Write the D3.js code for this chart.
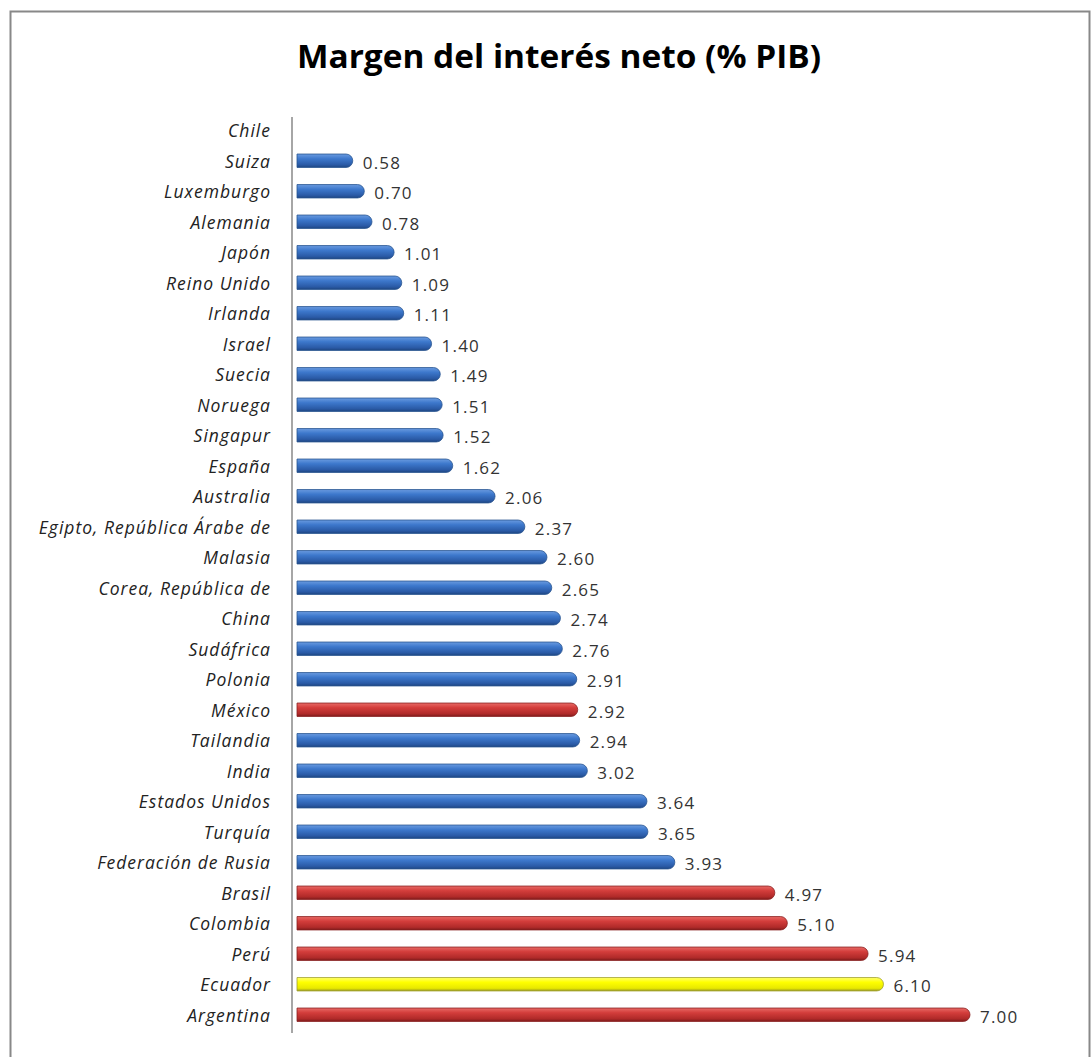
<!DOCTYPE html>
<html><head><meta charset="utf-8">
<script src="https://cdn.jsdelivr.net/npm/d3@7"></script>
<style>body{margin:0;background:#fff}svg{display:block}</style>
</head><body>
<script>
const categories = ["Chile","Suiza","Luxemburgo","Alemania","Japón","Reino Unido","Irlanda","Israel","Suecia","Noruega","Singapur","España","Australia","Egipto, República Árabe de","Malasia","Corea, República de","China","Sudáfrica","Polonia","México","Tailandia","India","Estados Unidos","Turquía","Federación de Rusia","Brasil","Colombia","Perú","Ecuador","Argentina"];
const values = [null,0.58,0.70,0.78,1.01,1.09,1.11,1.40,1.49,1.51,1.52,1.62,2.06,2.37,2.60,2.65,2.74,2.76,2.91,2.92,2.94,3.02,3.64,3.65,3.93,4.97,5.10,5.94,6.10,7.00];
const groups = ["otro","otro","otro","otro","otro","otro","otro","otro","otro","otro","otro","otro","otro","otro","otro","otro","otro","otro","otro","latam","otro","otro","otro","otro","otro","latam","latam","latam","ecuador","latam"];
const title = "Margen del interés neto (% PIB)";

const W = 1091, H = 1057;
const svg = d3.select("body").append("svg").attr("width", W).attr("height", H);

svg.append("rect").attr("x",10.5).attr("y",11.5).attr("width",1079).attr("height",1060)
  .attr("fill","#fff").attr("stroke","#888").attr("stroke-width",2);

const defs = svg.append("defs");
const palettes = {
  otro:   ["#6a9be0","#3d78cc","#2a5aa6","#1f4682"],
  latam:  ["#e86a66","#d33d3b","#b02a29","#7e1c1c"],
  ecuador:["#ffff70","#ffff00","#e8e800","#9a9a20"]
};
Object.entries(palettes).forEach(([k,c])=>{
  const g = defs.append("linearGradient").attr("id","g_"+k).attr("x1",0).attr("x2",0).attr("y1",0).attr("y2",1);
  g.append("stop").attr("offset","0%").attr("stop-color",c[0]);
  g.append("stop").attr("offset","35%").attr("stop-color",c[1]);
  g.append("stop").attr("offset","80%").attr("stop-color",c[2]);
  g.append("stop").attr("offset","100%").attr("stop-color",c[3]);
});
const stroke = d3.scaleOrdinal().domain(["otro","latam","ecuador"]).range(["#2a5590","#8a2222","#a0a030"]);

const x = d3.scaleLinear().domain([0,7]).range([297, 970]);
const y = d3.scaleBand().domain(categories).range([115, 1030]).paddingInner(0.56).paddingOuter(0.28);

svg.append("text").attr("x", 559).attr("y", 68).attr("text-anchor","middle")
  .attr("font-family","'Open Sans', Lato, sans-serif").attr("font-weight","bold")
  .attr("font-size", 32).attr("fill","#000")
  .attr("textLength", 524).attr("lengthAdjust","spacingAndGlyphs").text(title);

// axis
const yAxis = d3.axisLeft(y).tickSize(0).tickPadding(21);
const ax = svg.append("g").attr("transform","translate(292,0)").call(yAxis);
ax.select(".domain").attr("stroke","#888").attr("stroke-width",1.5).attr("d","M0,117V1033");
ax.selectAll("text").attr("font-family","'Open Sans', sans-serif").attr("font-style","italic")
  .attr("font-size",17.5).attr("letter-spacing",1).attr("fill","#222").attr("dy","0.4em");

const data = categories.map((c,i)=>({c, v: values[i], g: groups[i]})).filter(d=>d.v!=null);
const bh = y.bandwidth();
function barPath(d){
  const x0 = x(0), x1 = x(d.v), y0 = y(d.c), r = bh/2;
  return `M${x0},${y0}H${x1-r}A${r},${r} 0 0 1 ${x1},${y0+r}V${y0+bh-r}A${r},${r} 0 0 1 ${x1-r},${y0+bh}H${x0}Z`;
}
svg.append("g").selectAll("path").data(data).join("path")
  .attr("d", barPath).attr("fill", d=>`url(#g_${d.g})`)
  .attr("stroke", d=>stroke(d.g)).attr("stroke-width",0.8);

svg.append("g").selectAll("text").data(data).join("text")
  .attr("x", d=>x(d.v)+10).attr("y", d=>y(d.c)+bh/2+2).attr("dy","0.35em")
  .attr("font-family","'Open Sans', sans-serif").attr("font-size",17).attr("fill","#333")
  .attr("letter-spacing", 1.2)
  .text(d=>d3.format(".2f")(d.v));
</script>
</body></html>
